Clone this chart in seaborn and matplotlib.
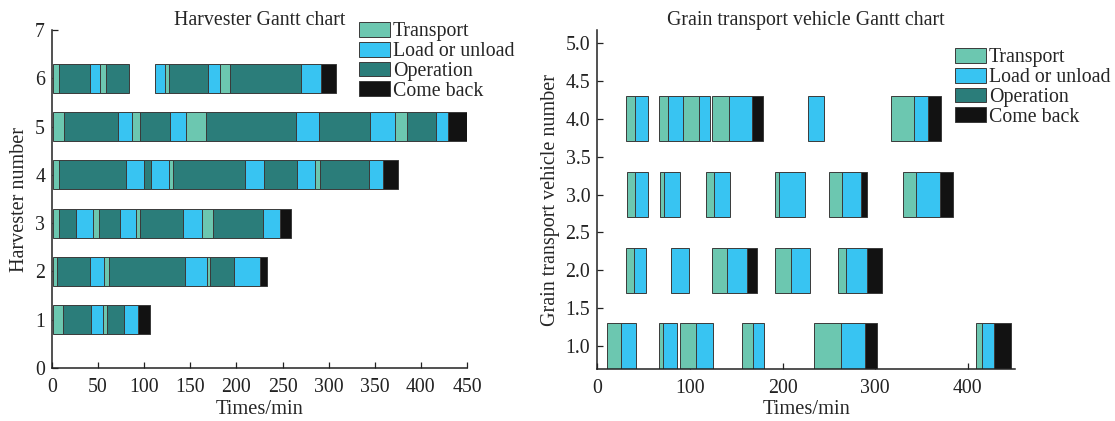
import matplotlib
matplotlib.use("Agg")
import matplotlib.pyplot as plt
import seaborn as sns
from matplotlib.patches import Patch

# ---------------- data ----------------
tasks = ["Transport", "Load or unload", "Operation", "Come back"]
palette = ["#6CC7B0", "#38C4F2", "#2B7D7A", "#121212"]

# Harvester Gantt: (task index, start, end) in minutes
harv_1 = [(0, 1, 11.9), (2, 11.9, 42.3), (1, 42.3, 55.3), (0, 55.3, 59.6),
          (2, 59.6, 78.4), (1, 78.4, 92.8), (3, 92.8, 105.8)]
harv_2 = [(0, 1, 5.4), (2, 5.4, 41.5), (1, 41.5, 56), (0, 56, 61.3),
          (2, 61.3, 144.5), (1, 144.5, 168), (0, 168, 171.6), (2, 171.6, 197.6),
          (1, 197.6, 225), (3, 225, 233)]
harv_3 = [(0, 1, 7.2), (2, 7.2, 26), (1, 26, 44), (0, 44, 50.5),
          (2, 50.5, 73.3), (1, 73.3, 91), (0, 91, 95.7), (2, 95.7, 142),
          (1, 142, 162.6), (0, 162.6, 175.1), (2, 175.1, 228.7),
          (1, 228.7, 246.7), (3, 246.7, 259.4)]
harv_4 = [(0, 1, 7.9), (2, 7.9, 80.5), (1, 80.5, 100), (2, 100, 107.3),
          (1, 107.3, 126.4), (0, 126.4, 130.7), (2, 130.7, 209.5),
          (1, 209.5, 230), (2, 230, 265.5), (1, 265.5, 285.7), (0, 285.7, 290.8),
          (2, 290.8, 344.2), (1, 344.2, 359.4), (3, 359.4, 375.6)]
harv_5 = [(0, 1, 12.6), (2, 12.6, 71.5), (1, 71.5, 86.7), (0, 86.7, 95.7),
          (2, 95.7, 127.5), (1, 127.5, 145.2), (0, 145.2, 167.2),
          (2, 167.2, 264.8), (1, 264.8, 290), (2, 290, 345), (1, 345, 372),
          (0, 372, 384.7), (2, 384.7, 416.5), (1, 416.5, 429.8), (3, 429.8, 449.8)]
harv_6 = [(0, 1, 7.9), (2, 7.9, 41.5), (1, 41.5, 52.3), (0, 52.3, 58.8),
          (2, 58.8, 83), (1, 111.2, 122.8), (0, 122.8, 126.4), (2, 126.4, 169),
          (1, 169, 181.7), (0, 181.7, 192.5), (2, 192.5, 269.8),
          (1, 269.8, 291.5), (3, 291.5, 308)]
harvester_rows = {1: harv_1, 2: harv_2, 3: harv_3, 4: harv_4, 5: harv_5, 6: harv_6}

# Grain transport vehicle Gantt
veh_1 = [(0, 10.8, 25.3), (1, 25.3, 41.8), (0, 67, 70.6), (1, 70.6, 85.7),
         (0, 89.3, 106.3), (1, 106.3, 125.3), (0, 156.6, 167.8), (1, 167.8, 180.3),
         (0, 234.3, 262.8), (1, 262.8, 289.1), (3, 289.1, 302.4),
         (0, 408.6, 415.1), (1, 415.1, 428.4), (3, 428.4, 446.4)]
veh_2 = [(0, 31, 40), (1, 40, 52.3), (1, 79.3, 99), (0, 124.2, 140.4),
         (1, 140.4, 161.3), (3, 161.3, 172.1), (0, 191.9, 209.2), (1, 209.2, 229.7),
         (0, 260.3, 268.6), (1, 268.6, 290.9), (3, 290.9, 307.1)]
veh_3 = [(0, 32.4, 40.7), (1, 40.7, 55.1), (0, 67.7, 72), (1, 72, 89.3),
         (0, 117, 126), (1, 126, 143.3), (0, 191.9, 196.5), (1, 196.5, 224.3),
         (0, 250.5, 264.6), (1, 264.6, 284.4), (3, 284.4, 291.6),
         (0, 330.5, 344.2), (1, 344.2, 370.1), (3, 370.1, 383.8)]
veh_4 = [(0, 31, 40.7), (1, 40.7, 54.4), (0, 66.6, 76.7), (1, 76.7, 92.2),
         (0, 92.2, 110.2), (1, 110.2, 121.7), (0, 124.2, 142.6), (1, 142.6, 167.4),
         (3, 167.4, 179.3), (1, 227.9, 245.1), (0, 316.8, 342.3), (1, 342.3, 357.4),
         (3, 357.4, 370.8)]
vehicle_rows = {1.0: veh_1, 2.0: veh_2, 3.0: veh_3, 4.0: veh_4}

harv_xticks = [0, 50, 100, 150, 200, 250, 300, 350, 400, 450]
harv_yticks = [0, 1, 2, 3, 4, 5, 6, 7]
veh_xticks = [0, 100, 200, 300, 400]
veh_yticks = [1.0, 1.5, 2.0, 2.5, 3.0, 3.5, 4.0, 4.5, 5.0]

# ---------------- style ----------------
sns.set_theme(style="ticks")
plt.rcParams["font.family"] = ["Liberation Serif", "DejaVu Serif"]
plt.rcParams["axes.edgecolor"] = "#222222"
plt.rcParams["axes.linewidth"] = 1.1

fig = plt.figure(figsize=(11.15, 4.21), dpi=100)
axL = fig.add_axes([52 / 1115, 53 / 421, (467 - 52) / 1115, (368 - 30) / 421])
axR = fig.add_axes([597.3 / 1115, 52 / 421, (1015 - 597.3) / 1115, (369 - 30) / 421])


def draw(ax, rows):
    for y, segs in rows.items():
        for ti, s, e in segs:
            ax.barh(y, e - s, left=s, height=0.6, color=palette[ti],
                    edgecolor="#3a3a3a", linewidth=0.7)


draw(axL, harvester_rows)
draw(axR, vehicle_rows)

axL.set_xlim(0, 450)
axL.set_ylim(0, 7)
axL.set_xticks(harv_xticks)
axL.set_yticks(harv_yticks)
axL.set_xlabel("Times/min", fontsize=14.8, labelpad=2)
axL.set_ylabel("Harvester number", fontsize=14.5, labelpad=4)
axL.set_title("Harvester Gantt chart", fontsize=14.3, pad=1.5)

axR.set_xlim(0, 451)
axR.set_ylim(0.7, 5.17)
axR.set_xticks(veh_xticks)
axR.set_yticks(veh_yticks)
axR.set_yticklabels([f"{v:.1f}" for v in veh_yticks])
axR.set_xlabel("Times/min", fontsize=14.8, labelpad=2)
axR.set_ylabel("Grain transport vehicle number", fontsize=14.5, labelpad=4)
axR.set_title("Grain transport vehicle Gantt chart", fontsize=14.3, pad=1.5)

for ax in (axL, axR):
    sns.despine(ax=ax)
    ax.tick_params(direction="in", length=4, width=0.9, labelsize=14.3,
                   colors="#222222")
    ax.tick_params(axis="x", pad=7)
    ax.tick_params(axis="y", pad=5)

handles = [Patch(facecolor=palette[i], edgecolor="#3a3a3a", linewidth=0.7,
                 label=tasks[i]) for i in range(4)]
leg_kw = dict(frameon=False, fontsize=14.3, handlelength=1.58, handleheight=0.78,
              handletextpad=0.12, labelspacing=0.02, borderpad=0, borderaxespad=0,
              loc="upper left")
fig.legend(handles=handles, bbox_to_anchor=(359 / 1115, 1 - 22 / 421), **leg_kw)
fig.legend(handles=handles, bbox_to_anchor=(955 / 1115, 1 - 48 / 421), **leg_kw)

fig.savefig("out.png", dpi=100)
